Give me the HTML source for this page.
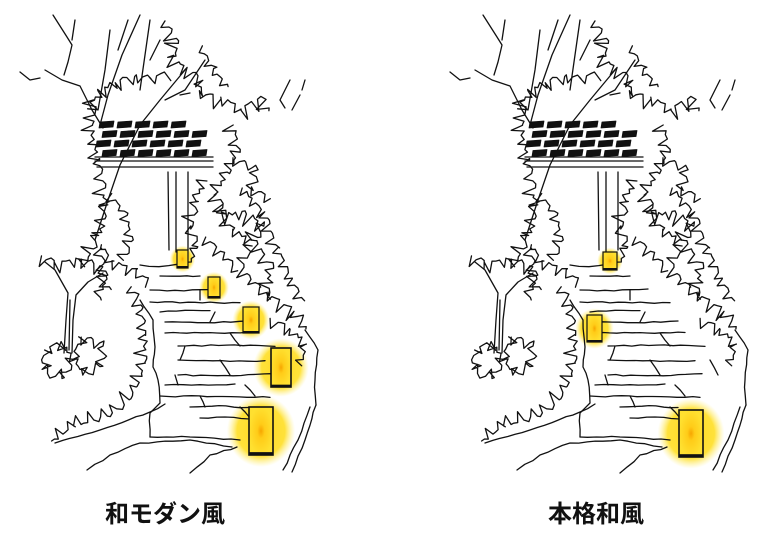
<!DOCTYPE html>
<html><head><meta charset="utf-8">
<style>
html,body{margin:0;padding:0;background:#fff;}
body{width:768px;height:538px;overflow:hidden;position:relative;}
svg{position:absolute;left:0;top:0;}
.lbl{position:absolute;top:494px;font-family:"Liberation Sans","Noto Sans CJK JP",sans-serif;font-weight:bold;font-size:24px;color:#111;letter-spacing:0px;white-space:nowrap;}
</style></head>
<body>
<svg id="s" width="768" height="538" viewBox="0 0 768 538" xmlns="http://www.w3.org/2000/svg">
<defs>
<radialGradient id="glow"><stop offset="0" stop-color="#ffd820" stop-opacity="1"/><stop offset="0.7" stop-color="#ffe030" stop-opacity="0.95"/><stop offset="1" stop-color="#fff080" stop-opacity="0"/></radialGradient>
<radialGradient id="lf"><stop offset="0" stop-color="#f7a500"/><stop offset="0.3" stop-color="#ffcc18"/><stop offset="1" stop-color="#ffe030"/></radialGradient>
</defs>
<g id="glows"></g>
<g id="d" fill="none" stroke="#111" stroke-width="1.3" stroke-linejoin="round" stroke-linecap="round"></g>
<use href="#d" x="430" y="0"/>
<g id="lan"></g>
</svg>
<div class="lbl" style="left:105px">和モダン風</div>
<div class="lbl" style="left:548px">本格和風</div>
<script>
var seed=7;function R(){seed=(seed*16807)%2147483647;return (seed-1)/2147483646;}
var d=document.getElementById('d');var NS='http://www.w3.org/2000/svg';
function P(str,extra){var p=document.createElementNS(NS,'path');p.setAttribute('d',str);if(extra)for(var k in extra)p.setAttribute(k,extra[k]);d.appendChild(p);}
function line(pts){var s='M'+pts[0][0]+' '+pts[0][1];for(var i=1;i<pts.length;i++)s+='L'+pts[i][0]+' '+pts[i][1];P(s);}
function wavy(pts,a){var s='';for(var i=0;i<pts.length-1;i++){var x0=pts[i][0],y0=pts[i][1],x1=pts[i+1][0],y1=pts[i+1][1];var L=Math.hypot(x1-x0,y1-y0),n=Math.max(1,Math.round(L/8));for(var j=0;j<=n;j++){if(i>0&&j==0)continue;var t=j/n;var x=x0+(x1-x0)*t+(j>0&&j<n?(R()-.5)*a:0),y=y0+(y1-y0)*t+(j>0&&j<n?(R()-.5)*a:0);s+=(s?'L':'M')+x.toFixed(1)+' '+y.toFixed(1);}}P(s);}
function jag(pts,amp){var s='';for(var i=0;i<pts.length-1;i++){var x0=pts[i][0],y0=pts[i][1],x1=pts[i+1][0],y1=pts[i+1][1];var L=Math.hypot(x1-x0,y1-y0);var n=Math.max(2,Math.round(L/3.5));var nx=-(y1-y0)/L,ny=(x1-x0)/L;for(var j=0;j<=n;j++){var t=j/n;var o=(j%2?1:-0.4)*amp*(0.5+R());if(j%4==3)o=-amp*0.9*R();var x=x0+(x1-x0)*t+nx*o+(R()-.5)*2,y=y0+(y1-y0)*t+ny*o+(R()-.5)*2;s+=(s?'L':'M')+x.toFixed(1)+' '+y.toFixed(1);}}P(s);}
// branches
line([[53,15],[67,37],[72,45],[68,62],[64,75]]);line([[75,20],[72,40]]);
line([[45,70],[62,80],[80,86],[92,110],[103,128]]);line([[20,72],[30,80],[40,78]]);
line([[140,15],[122,55],[108,95],[100,125]]);line([[128,20],[118,50]]);
line([[110,30],[105,70],[98,110]]);
line([[185,70],[160,100],[140,125],[120,165],[108,200],[95,240]]);
line([[150,20],[145,55],[140,90]]);line([[160,40],[150,60]]);
line([[205,60],[185,90],[165,100]]);line([[180,95],[190,93]]);
line([[290,80],[280,100],[285,108]]);line([[300,95],[292,110]]);line([[305,80],[302,90]]);
// foliage jagged
jag([[163,22],[175,42],[172,58],[185,70],[200,80],[198,95],[220,100],[240,110],[262,102],[268,112]],7);
jag([[90,110],[100,92],[115,85],[135,78],[150,80],[168,74]],6);
jag([[92,100],[90,125],[96,160],[105,205],[98,235],[82,265]],7);
jag([[230,125],[236,150],[226,172],[214,195],[222,215],[245,215],[263,225],[250,240]],7);
jag([[232,160],[255,170],[250,190],[270,200]],6);
jag([[205,180],[195,200],[188,228],[196,248],[188,265]],6);
jag([[220,205],[232,232],[255,245],[270,268],[266,295],[292,312],[306,330]],7);
jag([[250,245],[240,270],[258,290],[270,300]],6);
jag([[240,190],[262,212],[276,248],[290,280],[302,302]],6);
jag([[205,238],[222,255],[236,272]],5);
jag([[110,195],[125,215],[130,240],[120,260]],6);
jag([[200,48],[212,70],[228,88]],5);
jag([[100,245],[112,262],[135,272],[150,282]],5);
jag([[130,287],[140,310],[143,335],[143,363],[135,385],[127,397],[107,413],[73,423],[50,440]],7);
jag([[40,258],[55,265],[80,260],[100,268],[108,290]],6);
jag([[98,250],[105,275],[98,300]],5);
jag([[270,320],[290,330],[305,345],[300,365]],5);
// tree trunk
line([[64,353],[66,320],[68,293],[55,270],[45,262]]);line([[72,353],[73,320],[76,295],[88,282],[103,273]]);line([[69,350],[70,300]]);
// bottom-left leaves
jag([[46,352],[60,343],[72,358],[62,377],[46,370],[46,352]],6);
jag([[80,338],[102,345],[100,366],[85,374],[75,360],[80,338]],6);
// path edges
wavy([[140,300],[153,320],[155,347],[153,367],[158,380],[160,403],[150,413],[150,437]],1.5);
wavy([[55,443],[100,430],[150,412],[165,404]],1.5);
wavy([[87,470],[110,455],[140,443],[190,440],[232,447]],1.5);
wavy([[190,473],[210,455],[237,447]],1.5);
wavy([[150,437],[190,437],[240,440]],1.5);
wavy([[283,470],[298,440],[310,407]],1.5);wavy([[292,472],[305,440],[316,405]],1.5);
wavy([[316,405],[315,380],[318,350],[305,330]],2);
// stones
var st=[[140,265,178],[160,276,200],[150,290,218],[150,302,240],[160,312,210],[165,322,248],[165,333,255],[178,346,275],[178,360,265],[178,375,272],[165,385,235],[160,396,270],[190,407,248],[200,418,250]];
st.forEach(function(a){wavy([[a[0],a[1]],[(a[0]+a[2])/2,a[1]+(R()-.5)*4],[a[2],a[1]+(R()-.5)*3]],1.5);});
[[200,290,200,300],[215,312,210,322],[230,333,240,346],[185,346,180,360],[220,360,230,375],[175,375,178,385],[245,385,255,396],[200,396,205,407],[240,407,250,418],[280,360,288,375]].forEach(function(a){wavy([[a[0],a[1]],[a[2],a[3]]],1);});
// roof
var roof='';for(var r=0;r<4;r++){var y=122+r*9.5;var x0=97+(r%2)*6+(r==0?3:0);for(var x=x0;x<203-(r==0?20:0);x+=18){roof+='M'+x+' '+y+'l14 -1l-1 6l-14 1z';}}
P(roof,{fill:'#111',stroke:'#111','stroke-width':'0.8'});
line([[95,157],[213,157]]);line([[95,161],[213,161]]);line([[97,167],[213,167]]);
line([[168,172],[169,250]]);line([[176,172],[176,252]]);line([[188,172],[188,250]]);
// lanterns
var G=document.getElementById('glows'),LN=document.getElementById('lan');
function lan(x,y,w,h){var cx=x+w/2,cy=y+h/2,r=Math.max(w,h)*0.75;var c=document.createElementNS(NS,'ellipse');c.setAttribute('cx',cx);c.setAttribute('cy',cy);c.setAttribute('rx',r*0.95);c.setAttribute('ry',r);c.setAttribute('fill','url(#glow)');G.appendChild(c);
var b=document.createElementNS(NS,'rect');b.setAttribute('x',x);b.setAttribute('y',y);b.setAttribute('width',w);b.setAttribute('height',h);b.setAttribute('fill','url(#lf)');b.setAttribute('stroke','#111');b.setAttribute('stroke-width',w>18?1.6:1.2);LN.appendChild(b);
var t=document.createElementNS(NS,'rect');t.setAttribute('x',x);t.setAttribute('y',y+h-Math.max(2,h*0.06));t.setAttribute('width',w);t.setAttribute('height',Math.max(2,h*0.06));t.setAttribute('fill','#111');LN.appendChild(t);}
lan(177,250,11,18);lan(208,277,12,21);lan(243,307,16,26);lan(271,348,20,39);lan(249,407,24,48);
lan(603,252,14,18);lan(587,315,15,27);lan(679,410,24,47);
</script>
</body></html>
